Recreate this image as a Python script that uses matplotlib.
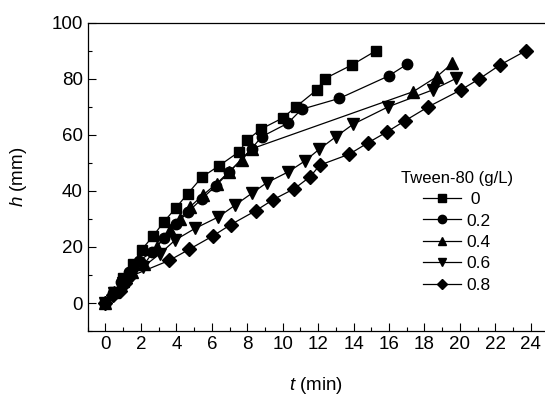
import matplotlib
matplotlib.use("Agg")
import matplotlib.pyplot as plt
from matplotlib.ticker import MultipleLocator

plt.rcParams['font.family'] = ['Liberation Sans', 'DejaVu Sans']
plt.rcParams['mathtext.fontset'] = 'custom'
plt.rcParams['mathtext.it'] = 'Liberation Sans:italic'
plt.rcParams['mathtext.rm'] = 'Liberation Sans'

# Tween-80 = 0 g/L
t0 = [0, 0.5, 1.0, 1.57, 2.04, 2.7, 3.3, 3.98, 4.64, 5.46, 6.42, 7.55, 7.97, 8.76, 10.0, 10.75, 11.92, 12.37, 13.93, 15.27]
h0 = [0, 4, 9, 14, 19, 24, 29, 34, 39, 45, 49, 54, 58, 62, 66, 70, 76, 80, 85, 90]
# 0.2 g/L
t1 = [0, 0.45, 0.9, 1.3, 1.9, 2.6, 3.3, 3.98, 4.64, 5.43, 6.24, 6.99, 8.25, 8.81, 10.28, 11.07, 13.2, 15.98, 17.0]
h1 = [0, 3.5, 7.5, 11, 15, 18.2, 23.1, 28.1, 32.4, 37.1, 41.9, 46.8, 55.1, 59.3, 64.1, 69.1, 73, 81, 85.1]
# 0.4 g/L
t2 = [0, 0.5, 1.0, 1.5, 2.2, 2.9, 3.64, 4.2, 4.77, 5.5, 6.27, 6.97, 7.68, 8.25, 17.37, 18.69, 19.57]
h2 = [0, 4, 8, 11, 14, 20, 26, 30, 34.3, 38.5, 42.6, 46.8, 51, 55, 75.4, 80.7, 85.5]
# 0.6 g/L
t3 = [0, 0.5, 1.0, 1.5, 2.13, 3.08, 3.92, 5.05, 6.37, 7.31, 8.25, 9.1, 10.32, 11.26, 12.05, 13.0, 13.98, 15.96, 18.46, 19.78]
h3 = [0, 3.5, 7, 10, 12.9, 17.6, 22.4, 26.6, 30.7, 34.9, 39.1, 42.9, 46.8, 50.7, 54.8, 59.3, 63.8, 70, 76, 80.1]
# 0.8 g/L
t4 = [0, 0.4, 0.82, 1.1, 1.4, 3.6, 4.71, 6.05, 7.08, 8.47, 9.47, 10.66, 11.54, 12.1, 13.76, 14.8, 15.9, 16.9, 18.22, 20.05, 21.08, 22.26, 23.73]
h4 = [0, 3, 4.3, 7, 9.5, 15.2, 19.1, 23.9, 28, 32.9, 36.9, 40.8, 45, 49.2, 53.1, 57.1, 61.1, 65, 70, 76, 79.9, 84.9, 90]

labels = [' 0', '0.2', '0.4', '0.6', '0.8']
markers = ['s', 'o', '^', 'v', 'D']
series_t = [t0, t1, t2, t3, t4]
series_h = [h0, h1, h2, h3, h4]
msizes = [7, 7.5, 8, 8, 7]

fig = plt.figure(figsize=(5.45, 3.97), dpi=100)
ax = fig.add_axes([0.161, 0.166, 0.839, 0.777])

for t, h, m, lab, ms in zip(series_t, series_h, markers, labels, msizes):
    ax.plot(t, h, color='black', lw=0.9, marker=m, ms=ms, mfc='black', mec='black', label=lab)

ax.set_xlim(-1, 24.8)
ax.set_ylim(-10, 100)
ax.set_xticks(range(0, 25, 2))
ax.set_yticks(range(0, 101, 20))
ax.xaxis.set_minor_locator(MultipleLocator(1))
ax.yaxis.set_minor_locator(MultipleLocator(10))
ax.tick_params(which='both', direction='in', labelsize=13.5, width=0.8)
ax.tick_params(which='major', length=6)
ax.tick_params(which='minor', length=3)
ax.spines['right'].set_visible(False)
for s in ['left', 'bottom', 'top']:
    ax.spines[s].set_linewidth(0.9)

ax.set_xlabel('$t$ (min)', fontsize=13.5, labelpad=16)
ax.set_ylabel('$h$ (mm)', fontsize=13.5, labelpad=16)

leg = ax.legend(title='Tween-80 (g/L)', loc='upper left', bbox_to_anchor=(0.665, 0.548),
                frameon=False, fontsize=12.5, title_fontsize=12, handlelength=2.2,
                handletextpad=0.3, labelspacing=0.36, borderpad=0, markerscale=0.8)

fig.savefig('out.png', dpi=100)
